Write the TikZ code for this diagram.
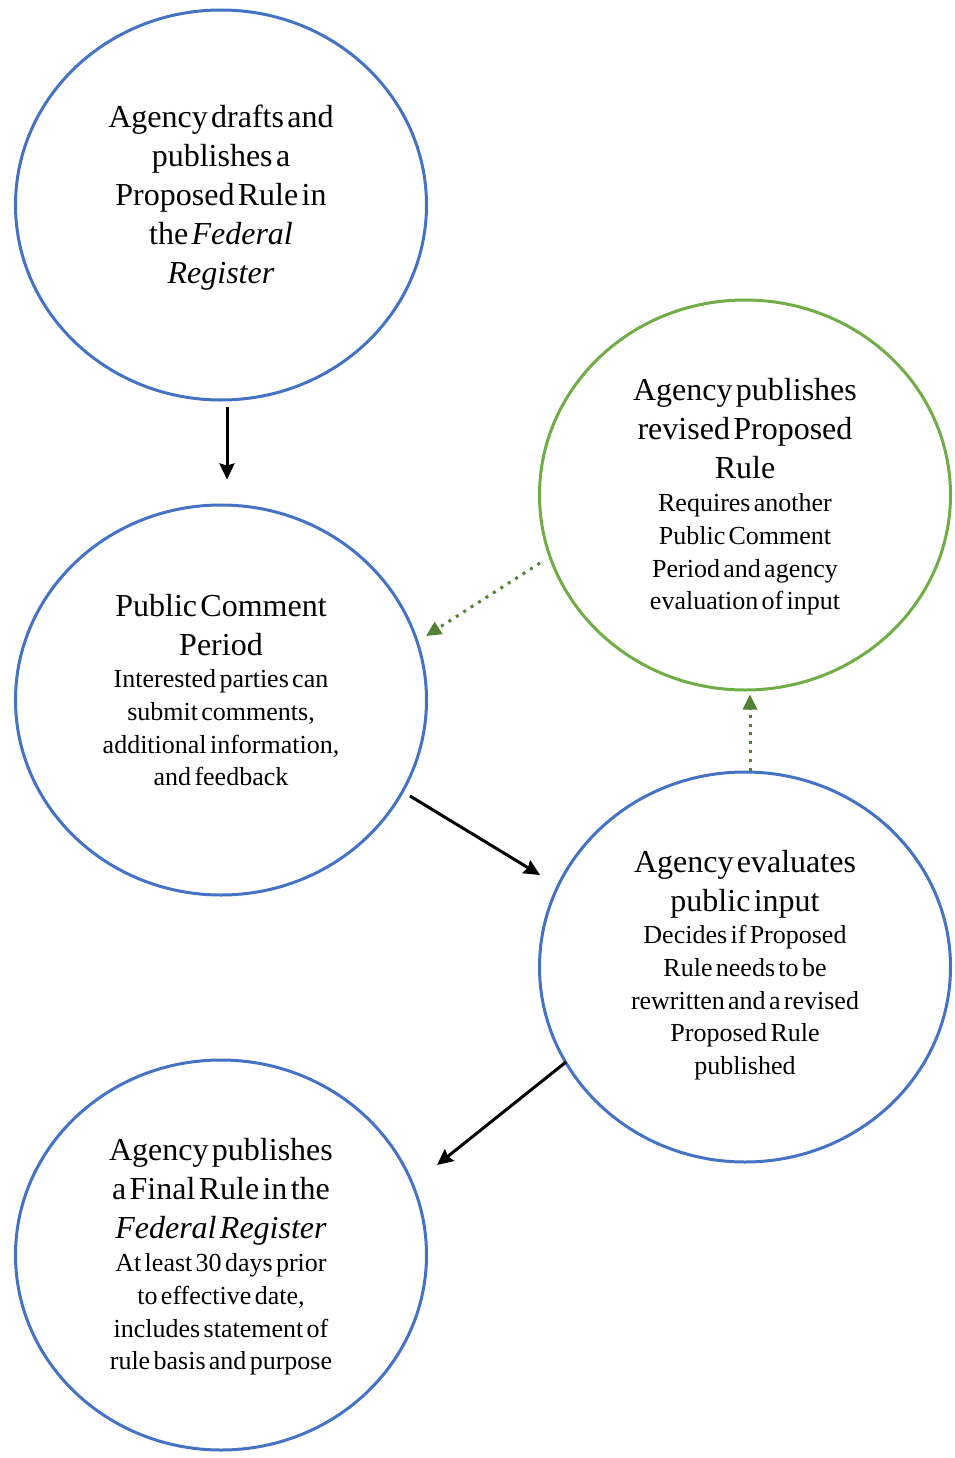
\documentclass[tikz,border=0pt]{standalone}
\usepackage{fontspec}
\setmainfont{Liberation Serif}
\usetikzlibrary{arrows.meta,calc,shapes.geometric}
\definecolor{stageblue}{HTML}{4472C4}
\definecolor{stagegreen}{HTML}{70AD47}
\definecolor{loopgreen}{HTML}{548235}
\newcommand{\headfont}{\fontsize{32}{39}\selectfont}
\newcommand{\notefont}{\fontsize{26}{32.7}\selectfont}
\tikzset{
  stage/.style={ellipse, draw=stageblue, line width=3pt, inner sep=0pt,
    minimum width=411pt, minimum height=390pt},
  revstage/.style={stage, draw=stagegreen},
  stagetext/.style={inner sep=0pt, text width=280pt, align=center},
  flow/.style={line width=3pt, -{Stealth[length=16pt,width=15pt,inset=2pt]}},
  loop/.style={line width=3pt, draw=loopgreen, dash pattern=on 3pt off 5.8pt,
    -{Triangle[length=15pt,width=14pt,fill=loopgreen]}}
}
\begin{document}
\begin{tikzpicture}[x=1pt,y=-1pt]
\useasboundingbox (0,0) rectangle (955,1458);

% stages
\node[stage] (draft) at (221,205) {};
\node[stage] (comment) at (221,700) {};
\node[revstage] (revised) at (745,495) {};
\node[stage] (evaluate) at (745,967) {};
\node[stage] (final) at (221,1255) {};

% stage texts
\node[stagetext] (draft-txt) at ($(draft.center)+(0,-7)$)
  {\headfont Agency drafts and\\ publishes a\\ Proposed Rule in\\ the \textit{Federal}\\ \textit{Register}\par};

\node[stagetext] (comment-txt) at ($(comment.center)+(0,-10)$)
  {\headfont Public Comment\\ Period\par
   \notefont Interested parties can\\ submit comments,\\ additional information,\\ and feedback\par};

\node[stagetext] (revised-txt) at ($(revised.center)+(0,2)$)
  {\headfont Agency publishes\\ revised Proposed\\ Rule\par
   \notefont Requires another\\ Public Comment\\ Period and agency\\ evaluation of input\par};

\node[stagetext] (evaluate-txt) at ($(evaluate.center)+(0,-2)$)
  {\headfont Agency evaluates\\ public input\par
   \notefont Decides if Proposed\\ Rule needs to be\\ rewritten and a revised\\ Proposed Rule\\ published\par};

\node[stagetext] (final-txt) at ($(final.center)+(0,2)$)
  {\headfont Agency publishes\\ a Final Rule in the\\ \textit{Federal Register}\par
   \notefont At least 30 days prior\\ to effective date,\\ includes statement of\\ rule basis and purpose\par};

% main sequence
\draw[flow] ($(draft.south)+(6,5)$) -- ($(comment.north)+(6,-24)$);
\draw[flow] ($(comment.center)+(189,96)$) -- ($(evaluate.center)+(-205,-92)$);
\draw[flow] ($(evaluate.center)+(-179,95)$) -- ($(final.center)+(216,-90)$);

% revision loop
\draw[loop] ($(evaluate.north)+(5,0)$) -- ($(revised.south)+(5,3)$);
\draw[loop] ($(revised.center)+(-205,68)$) -- ($(comment.center)+(205,-64)$);
\end{tikzpicture}
\end{document}
